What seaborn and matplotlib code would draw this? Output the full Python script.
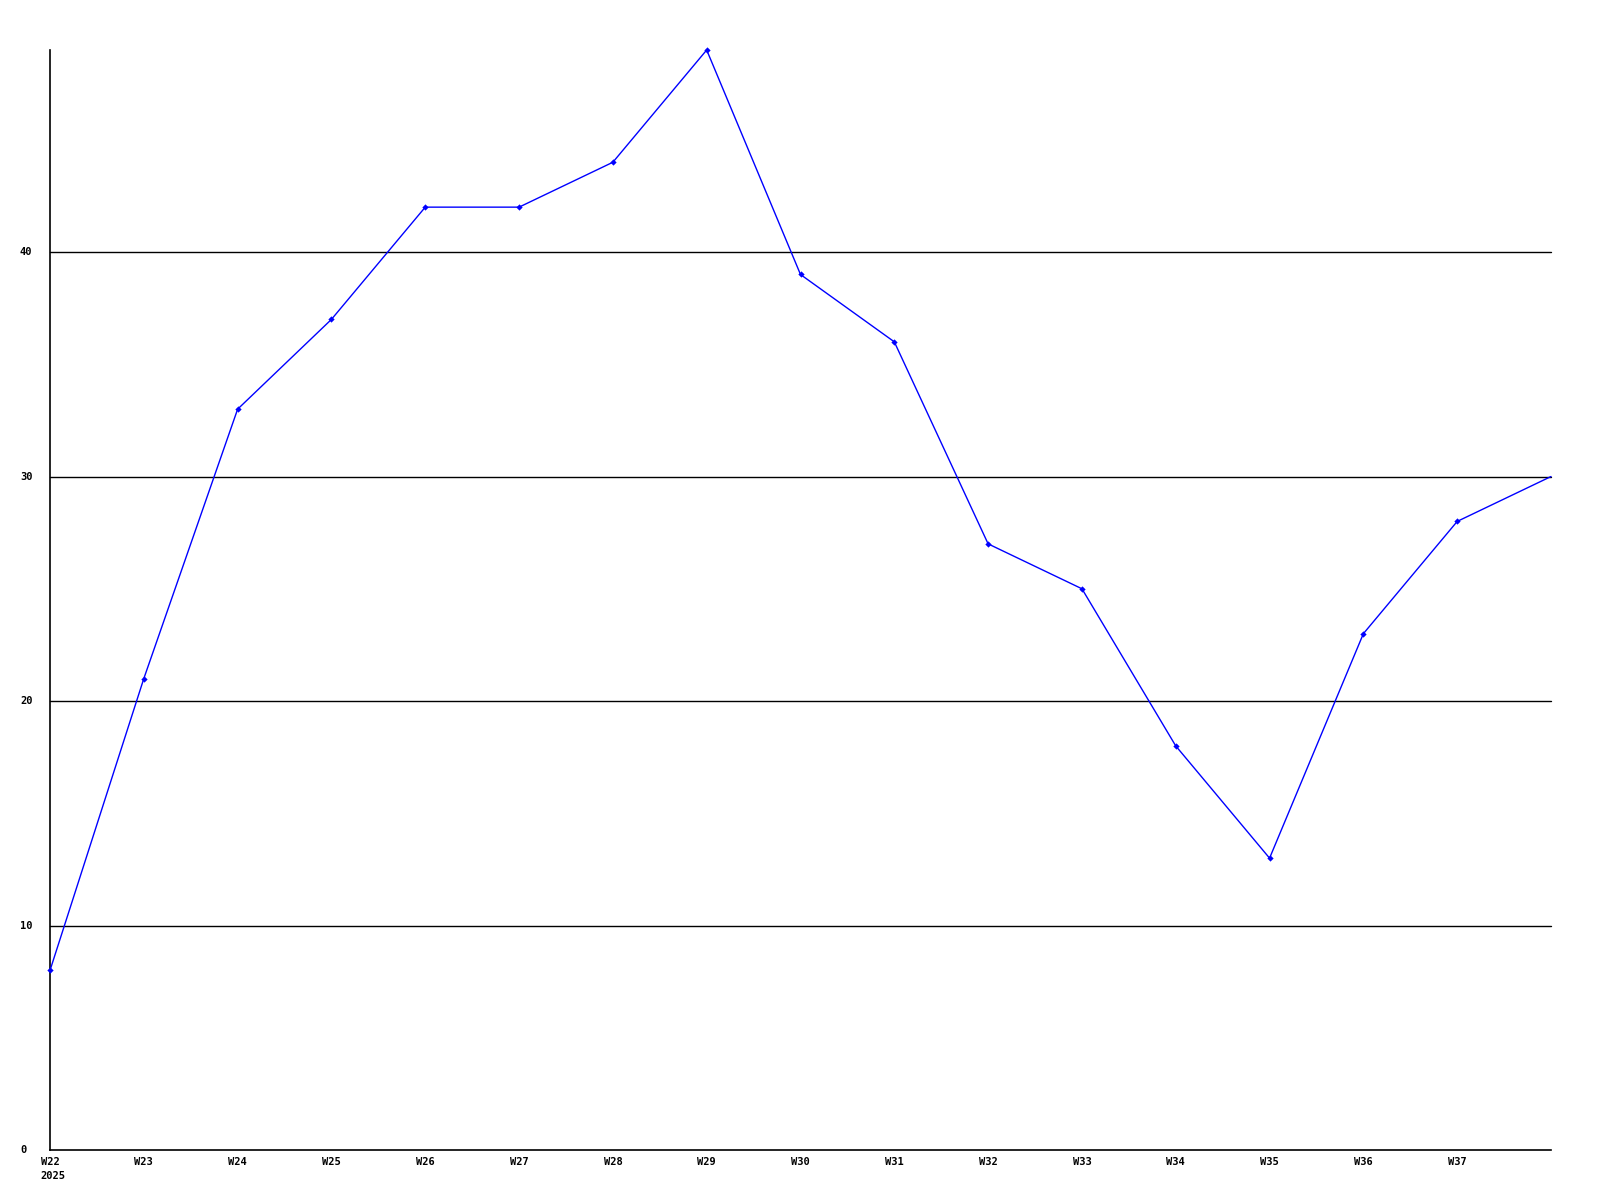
import matplotlib
matplotlib.use("Agg")
import matplotlib.pyplot as plt
import seaborn as sns
import pandas as pd

weeks = ["W22", "W23", "W24", "W25", "W26", "W27", "W28", "W29", "W30",
         "W31", "W32", "W33", "W34", "W35", "W36", "W37", "W38"]
values = [8, 21, 33, 37, 42, 42, 44, 49, 39, 36, 27, 25, 18, 13, 23, 28, 30]
y_ticks = [0, 10, 20, 30, 40]
x_labels = ["W22", "W23", "W24", "W25", "W26", "W27", "W28", "W29",
            "W30", "W31", "W32", "W33", "W34", "W35", "W36", "W37"]
year_label = "2025"

df = pd.DataFrame({"idx": range(len(weeks)), "week": weeks, "value": values})

sns.set_style("white")
plt.rcParams['font.family'] = ['DejaVu Sans Mono', 'DejaVu Sans']

fig = plt.figure(figsize=(16, 12), dpi=100)
W, H = 1600, 1200
left, right, top, bottom = 50, 1551, 50, 1150
ax = fig.add_axes([left / W, 1 - bottom / H, (right - left) / W, (bottom - top) / H])

for yv in y_ticks[1:]:
    ax.axhline(yv, color="black", lw=1.0, zorder=1)

sns.lineplot(data=df, x="idx", y="value", ax=ax, color="#0000ff", lw=1.0,
             marker="D", markersize=3.2, markeredgewidth=0, zorder=3,
             markevery=list(range(len(weeks) - 1)))
for line in ax.get_lines():
    line.set_clip_on(False)

ax.set_xlim(0, len(weeks) - 1)
ax.set_ylim(0, 49)
ax.set_xlabel("")
ax.set_ylabel("")

ax.set_xticks([])
ax.set_yticks([])
for s in ["top", "right"]:
    ax.spines[s].set_visible(False)
for s in ["left", "bottom"]:
    ax.spines[s].set_color("black")
    ax.spines[s].set_linewidth(1.2)
ax.tick_params(length=0)

trans = ax.get_yaxis_transform()
for yv in y_ticks:
    ax.text(-30 / (right - left), yv, str(yv), transform=trans, ha="left",
            va="center", fontsize=7.5, fontweight="bold", color="black")

xtrans = ax.get_xaxis_transform()
for i, lab in enumerate(x_labels):
    ax.text(i, -7 / (bottom - top), lab, transform=xtrans, ha="center",
            va="top", fontsize=7.5, fontweight="bold", color="black")
ax.text(-10 / ((right - left) / (len(weeks) - 1)), -21 / (bottom - top), year_label,
        transform=xtrans, ha="left", va="top", fontsize=7.5,
        fontweight="bold", color="black")

fig.savefig("out.png", dpi=100, facecolor="white")
